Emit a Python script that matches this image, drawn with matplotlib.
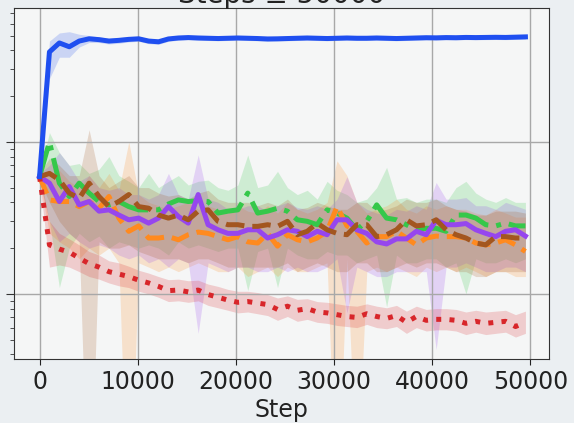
import numpy as np
import matplotlib.pyplot as plt

# training curves, 50 logged points between step 0 and 49500
steps = np.linspace(0, 49500, 50)

blue = [0.59, 3.9, 4.47, 4.22, 4.6, 4.76, 4.7, 4.6, 4.65, 4.72, 4.76, 4.6, 4.55, 4.75, 4.82, 4.85, 4.82, 4.8, 4.78, 4.8,
        4.82, 4.8, 4.78, 4.75, 4.76, 4.78, 4.8, 4.82, 4.8, 4.78, 4.8, 4.82, 4.8, 4.8, 4.82, 4.8, 4.78, 4.8, 4.82, 4.84,
        4.83, 4.85, 4.84, 4.86, 4.85, 4.86, 4.87, 4.86, 4.88, 4.9]
blue_hi = [0.62, 4.6, 5.2, 5.3, 5.1, 5.0, 4.9, 4.8, 4.85, 4.9, 4.93, 4.78, 4.72, 4.92, 4.98, 5.0, 4.98, 4.96, 4.94, 4.96,
           4.98, 4.96, 4.94, 4.92, 4.93, 4.95, 4.97, 4.99, 4.97, 4.95, 4.97, 4.99, 4.97, 4.97, 4.99, 4.97, 4.95, 4.97, 4.99, 5.0,
           4.99, 5.01, 5.0, 5.02, 5.01, 5.02, 5.03, 5.02, 5.04, 5.06]
blue_lo = [0.56, 2.6, 3.6, 3.6, 4.2, 4.5, 4.5, 4.4, 4.45, 4.54, 4.58, 4.42, 4.38, 4.58, 4.66, 4.7, 4.66, 4.64, 4.62, 4.64,
           4.66, 4.64, 4.62, 4.58, 4.6, 4.62, 4.64, 4.66, 4.64, 4.62, 4.64, 4.66, 4.64, 4.64, 4.66, 4.64, 4.62, 4.64, 4.66, 4.68,
           4.67, 4.69, 4.68, 4.7, 4.69, 4.7, 4.71, 4.7, 4.72, 4.74]

green = [0.59, 1.0, 0.535, 0.437, 0.535, 0.46, 0.405, 0.385, 0.405, 0.375, 0.357, 0.357, 0.357, 0.39, 0.415, 0.405, 0.41,
         0.405, 0.34, 0.35, 0.357, 0.46, 0.34, 0.35, 0.366, 0.35, 0.307, 0.30, 0.285, 0.357, 0.34, 0.315, 0.264, 0.30,
         0.385, 0.315, 0.307, 0.285, 0.264, 0.27, 0.27, 0.258, 0.33, 0.33, 0.315, 0.285, 0.28, 0.292, 0.28, 0.28]
green_hi = [0.62, 1.15, 0.85, 0.7, 0.72, 0.62, 0.66, 0.8, 0.6, 0.55, 0.5, 0.62, 0.5, 0.55, 0.6, 0.52, 0.55, 0.56, 0.5, 0.48,
            0.52, 0.82, 0.5, 0.52, 0.64, 0.5, 0.45, 0.48, 0.42, 0.55, 0.48, 0.45, 0.4, 0.42, 0.5, 0.68, 0.42, 0.43, 0.4, 0.42,
            0.42, 0.4, 0.5, 0.55, 0.46, 0.42, 0.4, 0.43, 0.4, 0.4]
green_lo = [0.56, 0.3, 0.11, 0.2, 0.25, 0.22, 0.24, 0.2, 0.22, 0.21, 0.2, 0.21, 0.2, 0.18, 0.22, 0.2, 0.21, 0.2, 0.19, 0.2,
            0.2, 0.105, 0.19, 0.2, 0.11, 0.2, 0.18, 0.17, 0.17, 0.19, 0.18, 0.18, 0.16, 0.17, 0.18, 0.082, 0.18, 0.16, 0.16, 0.17,
            0.17, 0.15, 0.16, 0.1, 0.17, 0.16, 0.16, 0.17, 0.16, 0.17]

orange = [0.59, 0.415, 0.405, 0.405, 0.375, 0.405, 0.366, 0.437, 0.315, 0.258, 0.28, 0.233, 0.233, 0.238, 0.227, 0.245,
          0.255, 0.25, 0.238, 0.227, 0.238, 0.22, 0.216, 0.25, 0.206, 0.245, 0.227, 0.22, 0.233, 0.258, 0.375, 0.28, 0.258,
          0.216, 0.238, 0.238, 0.258, 0.233, 0.21, 0.233, 0.24, 0.238, 0.238, 0.233, 0.216, 0.21, 0.216, 0.227, 0.21, 0.19]
orange_hi = [0.62, 0.6, 0.65, 0.55, 0.5, 0.6, 0.5, 0.62, 0.48, 1.0, 0.45, 0.4, 0.38, 0.36, 0.38, 0.4, 0.36, 0.38, 0.36, 0.34,
             0.38, 0.35, 0.34, 0.38, 0.34, 0.4, 0.36, 0.34, 0.36, 0.4, 0.75, 0.6, 0.4, 0.34, 0.36, 0.38, 0.42, 0.36, 0.34, 0.38,
             0.36, 0.38, 0.36, 0.36, 0.34, 0.33, 0.36, 0.34, 0.32, 0.32]
orange_lo = [0.56, 0.25, 0.22, 0.2, 0.17, 0.2, 0.18, 0.2, 0.16, 0.002, 0.16, 0.15, 0.14, 0.15, 0.14, 0.15, 0.16, 0.15, 0.14,
             0.14, 0.15, 0.13, 0.14, 0.15, 0.13, 0.15, 0.14, 0.14, 0.15, 0.16, 0.003, 0.17, 0.005, 0.14, 0.15, 0.14, 0.15, 0.14,
             0.13, 0.15, 0.14, 0.15, 0.14, 0.15, 0.14, 0.13, 0.14, 0.14, 0.13, 0.13]

purple = [0.59, 0.535, 0.405, 0.508, 0.385, 0.405, 0.35, 0.357, 0.33, 0.307, 0.315, 0.292, 0.315, 0.375, 0.323, 0.292,
          0.45, 0.285, 0.264, 0.25, 0.25, 0.264, 0.264, 0.233, 0.245, 0.264, 0.258, 0.238, 0.258, 0.245, 0.307, 0.307,
          0.264, 0.25, 0.22, 0.213, 0.23, 0.23, 0.258, 0.245, 0.305, 0.285, 0.285, 0.29, 0.264, 0.25, 0.238, 0.258, 0.264, 0.24]
purple_hi = [0.62, 0.7, 0.85, 0.7, 0.55, 0.6, 0.5, 0.48, 0.5, 0.45, 0.45, 0.42, 0.45, 0.62, 0.45, 0.42, 0.82, 0.42, 0.4, 0.36,
             0.36, 0.38, 0.38, 0.35, 0.38, 0.4, 0.37, 0.36, 0.38, 0.36, 0.42, 0.59, 0.4, 0.36, 0.34, 0.33, 0.36, 0.35, 0.38, 0.36,
             0.54, 0.42, 0.42, 0.43, 0.38, 0.38, 0.36, 0.4, 0.38, 0.36]
purple_lo = [0.56, 0.3, 0.22, 0.25, 0.22, 0.2, 0.21, 0.2, 0.18, 0.17, 0.18, 0.16, 0.17, 0.15, 0.17, 0.16, 0.055, 0.16, 0.15,
             0.14, 0.15, 0.15, 0.14, 0.14, 0.15, 0.14, 0.15, 0.14, 0.14, 0.15, 0.17, 0.075, 0.15, 0.14, 0.13, 0.13, 0.14, 0.14,
             0.14, 0.14, 0.043, 0.15, 0.15, 0.16, 0.15, 0.14, 0.14, 0.15, 0.15, 0.14]

brown = [0.59, 0.62, 0.562, 0.46, 0.425, 0.535, 0.437, 0.375, 0.405, 0.45, 0.375, 0.366, 0.33, 0.315, 0.33, 0.307, 0.35,
         0.357, 0.3, 0.285, 0.285, 0.278, 0.278, 0.285, 0.278, 0.3, 0.245, 0.258, 0.292, 0.264, 0.25, 0.245, 0.285, 0.285,
         0.238, 0.245, 0.264, 0.307, 0.28, 0.285, 0.307, 0.264, 0.245, 0.233, 0.216, 0.21, 0.238, 0.238, 0.233, 0.233]
brown_hi = [0.62, 0.78, 0.7, 0.6, 0.6, 1.2, 0.6, 0.5, 0.55, 0.6, 0.5, 0.5, 0.46, 0.44, 0.45, 0.42, 0.46, 0.48, 0.42, 0.4,
            0.4, 0.4, 0.38, 0.4, 0.38, 0.42, 0.36, 0.37, 0.4, 0.38, 0.36, 0.36, 0.4, 0.4, 0.35, 0.36, 0.38, 0.42, 0.4, 0.4,
            0.42, 0.38, 0.36, 0.35, 0.33, 0.33, 0.35, 0.35, 0.35, 0.34]
brown_lo = [0.56, 0.4, 0.3, 0.25, 0.22, 0.002, 0.22, 0.2, 0.2, 0.21, 0.19, 0.18, 0.17, 0.17, 0.17, 0.16, 0.17, 0.17, 0.16,
            0.15, 0.15, 0.15, 0.15, 0.15, 0.15, 0.16, 0.14, 0.15, 0.16, 0.15, 0.14, 0.14, 0.16, 0.16, 0.14, 0.14, 0.15, 0.16,
            0.15, 0.16, 0.16, 0.15, 0.14, 0.14, 0.13, 0.13, 0.14, 0.14, 0.14, 0.14]

red = [0.59, 0.21, 0.197, 0.188, 0.172, 0.158, 0.15, 0.14, 0.135, 0.13, 0.123, 0.118, 0.112, 0.105, 0.106, 0.103, 0.106,
       0.099, 0.095, 0.091, 0.088, 0.089, 0.087, 0.085, 0.079, 0.083, 0.078, 0.080, 0.076, 0.075, 0.073, 0.071, 0.070,
       0.074, 0.071, 0.069, 0.072, 0.065, 0.071, 0.067, 0.068, 0.068, 0.067, 0.064, 0.066, 0.064, 0.065, 0.066, 0.061, 0.065]
red_hi = [0.62, 0.3, 0.25, 0.23, 0.21, 0.19, 0.18, 0.165, 0.16, 0.152, 0.143, 0.137, 0.13, 0.124, 0.125, 0.122, 0.123, 0.116,
          0.112, 0.107, 0.104, 0.104, 0.102, 0.099, 0.094, 0.097, 0.092, 0.093, 0.089, 0.088, 0.086, 0.084, 0.083, 0.086,
          0.083, 0.081, 0.084, 0.077, 0.083, 0.079, 0.08, 0.08, 0.079, 0.076, 0.078, 0.076, 0.077, 0.078, 0.073, 0.077]
red_lo = [0.56, 0.15, 0.155, 0.15, 0.14, 0.13, 0.125, 0.118, 0.113, 0.11, 0.104, 0.1, 0.095, 0.089, 0.09, 0.088, 0.09, 0.084,
          0.081, 0.078, 0.075, 0.076, 0.074, 0.072, 0.067, 0.071, 0.066, 0.068, 0.065, 0.064, 0.062, 0.061, 0.06, 0.063,
          0.06, 0.059, 0.061, 0.055, 0.06, 0.057, 0.058, 0.058, 0.057, 0.054, 0.056, 0.054, 0.055, 0.056, 0.052, 0.055]

xticks = [0, 10000, 20000, 30000, 40000, 50000]

series = [
    (green, green_lo, green_hi, '#35c84a', '-.'),
    (orange, orange_lo, orange_hi, '#ff8a1f', '--'),
    (purple, purple_lo, purple_hi, '#9646ee', '-'),
    (brown, brown_lo, brown_hi, '#a3561f', '--'),
    (red, red_lo, red_hi, '#d8262a', ':'),
    (blue, blue_lo, blue_hi, '#1f4ff0', '-'),
]

fig = plt.figure(figsize=(5.74, 4.23), dpi=100, facecolor='#ebeff2')
ax = fig.add_axes([0.0244, 0.1513, 0.932, 0.830])
ax.set_facecolor('#f5f6f6')

# shaded spread first, lines on top
for vals, lo, hi, col, ls in series:
    ax.fill_between(steps, lo, hi, color=col, alpha=0.2, lw=0)
for vals, lo, hi, col, ls in series:
    ax.plot(steps, vals, color=col, ls=ls, lw=3.6)

ax.set_yscale('log')
ax.set_ylim(0.0373, 7.6)
ax.set_xlim(-2600, 51900)
ax.set_xticks(xticks)
ax.set_xticklabels([str(t) for t in xticks])
ax.grid(True, which='major', color='#a8a8a8', lw=1)
ax.tick_params(axis='x', labelsize=17, length=4, colors='#222222', pad=4)
ax.tick_params(axis='y', which='both', labelleft=False, colors='#333333')
ax.tick_params(axis='y', which='major', length=6)
ax.tick_params(axis='y', which='minor', length=3)
for sp in ax.spines.values():
    sp.set_color('#333333')
ax.set_xlabel('Step', fontsize=17, labelpad=3, color='#222222')

# title sits mostly above the top edge, as in the source image
fig.text(0.49, 1 - 2.7 / 423, 'Steps \u2265 50000', ha='center', va='baseline', fontsize=20, color='#222222')

fig.savefig('out.png', dpi=100, facecolor=fig.get_facecolor())
